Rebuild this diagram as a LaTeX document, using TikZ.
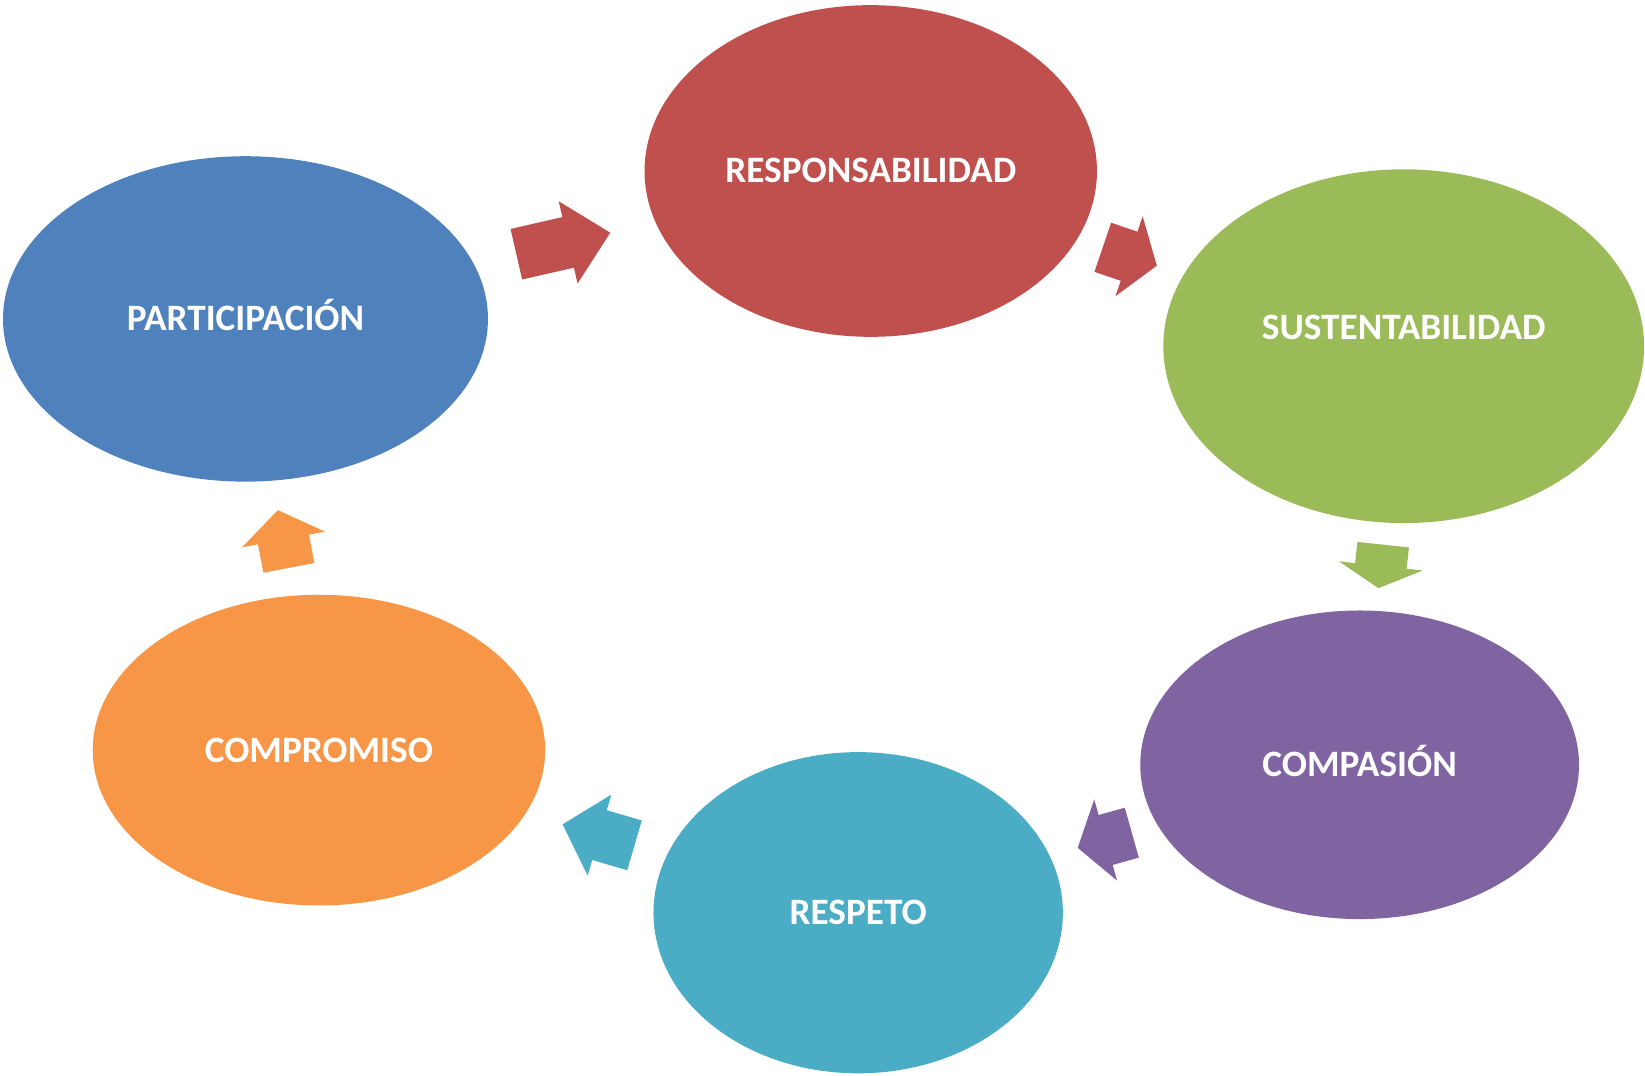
\documentclass[tikz,border=0pt]{standalone}
\usepackage{fontspec}
\setmainfont{Carlito}
\usepackage{tikz}
\usetikzlibrary{shapes.geometric}
\usetikzlibrary{shapes.arrows}
\definecolor{PartBlue}{HTML}{4F81BD}
\definecolor{RespRed}{HTML}{C0504D}
\definecolor{SustGreen}{HTML}{9BBB59}
\definecolor{CompPurple}{HTML}{8064A2}
\definecolor{RespTeal}{HTML}{4BACC6}
\definecolor{CompOrange}{HTML}{F79646}

\begin{document}
\begin{tikzpicture}[
 x=0.01cm, y=-0.01cm,
 valor/.style = {ellipse, draw=none, inner sep=0pt},
 txt/.style = {text=white, font=\fontsize{10.1}{12}\selectfont\bfseries,
               inner sep=0pt, text height=6.5pt, text depth=0pt},
 flecha/.style = {single arrow, draw=none, inner xsep=0pt, inner ysep=2.4mm, anchor=tail,
                  minimum width=7.9mm, single arrow head extend=1.55mm},
                        ]
    \useasboundingbox (0,0) rectangle (1568,1025.6);

    \node [valor, fill=PartBlue, minimum width=4.62cm, minimum height=3.10cm] (part) at (234,304) {};
    \node [txt] at (part) {PARTICIPACIÓN};
    \node [valor, fill=RespRed, minimum width=4.31cm, minimum height=3.16cm] (resp) at (830,163) {};
    \node [txt] at (resp) {RESPONSABILIDAD};
    \node [valor, fill=SustGreen, minimum width=4.58cm, minimum height=3.37cm] (sust) at (1338,330) {};
    \node [txt] at (1338,312) {SUSTENTABILIDAD};
    \node [valor, fill=CompPurple, minimum width=4.18cm, minimum height=2.94cm] (comp) at (1296,729) {};
    \node [txt] at (comp) {COMPASIÓN};
    \node [valor, fill=RespTeal, minimum width=3.90cm, minimum height=3.06cm] (resto) at (818,870) {};
    \node [txt] at (resto) {RESPETO};
    \node [valor, fill=CompOrange, minimum width=4.31cm, minimum height=2.96cm] (compr) at (304,715) {};
    \node [txt] at (compr) {COMPROMISO};

    % block arrows of the cycle
    \node [flecha, fill=RespRed, rotate=12.9, minimum height=9.18mm, single arrow tip angle=88.6] (a1) at (491.5,242.5) {};
    \node [flecha, fill=RespRed, rotate=-18.8, minimum height=5.44mm, single arrow tip angle=110.4] (a2) at (1050.5,235.5) {};
    \node [flecha, fill=SustGreen, rotate=-96.2, minimum height=4.17mm, single arrow tip angle=124] (a3) at (1318.5,518.5) {};
    \node [flecha, fill=CompPurple, rotate=195.7, minimum height=5.35mm, single arrow tip angle=111] (a4) at (1079.5,793.5) {};
    \node [flecha, fill=RespTeal, rotate=163.7, minimum height=7.14mm, single arrow tip angle=95.3] (a5) at (605.5,806) {};
    \node [flecha, fill=CompOrange, rotate=100.8, minimum height=5.60mm, single arrow tip angle=109.4] (a6) at (275.5,542) {};

\end{tikzpicture}
\end{document}
